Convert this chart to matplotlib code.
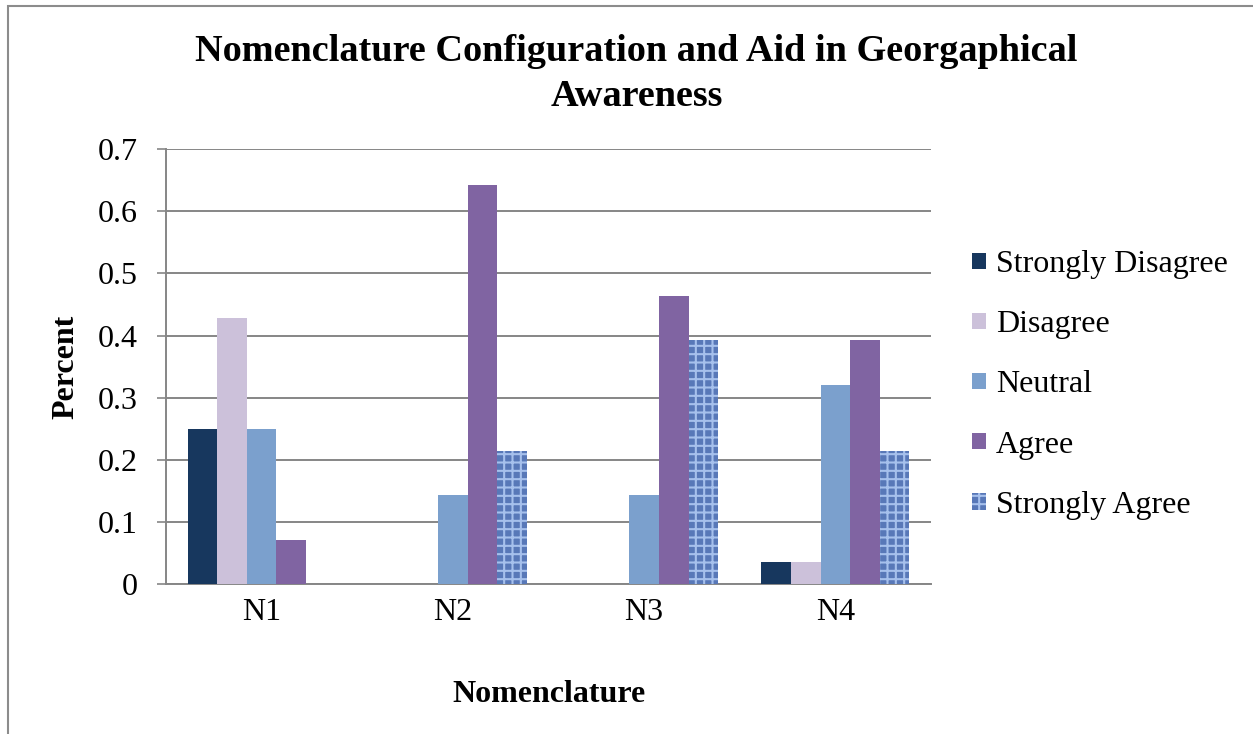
import matplotlib.pyplot as plt
import numpy as np

categories = ['N1', 'N2', 'N3', 'N4']
series = ['Strongly Disagree', 'Disagree', 'Neutral', 'Agree', 'Strongly Agree']
strongly_disagree = [0.25, 0.0, 0.0, 0.036]
disagree = [0.429, 0.0, 0.0, 0.036]
neutral = [0.25, 0.143, 0.143, 0.321]
agree = [0.071, 0.643, 0.464, 0.393]
strongly_agree = [0.0, 0.214, 0.393, 0.214]
values = [strongly_disagree, disagree, neutral, agree, strongly_agree]
colors = ['#17375E', '#CCC1DA', '#7BA0CD', '#8064A2', '#5878B8']

plt.rcParams['font.family'] = ['Liberation Serif', 'DejaVu Serif']
plt.rcParams['hatch.linewidth'] = 1.5

fig = plt.figure(figsize=(12.53, 7.34), dpi=100)
ax = fig.add_axes([0.1325, 0.2044, 0.6105, 0.5922])

# outer chart border
fig.patches.append(plt.Rectangle((8 / 1253, -0.1), 1.2, 1.1 - 6 / 734,
                                 transform=fig.transFigure, fill=False,
                                 edgecolor='#8C8C8C', linewidth=1.5))

x = np.arange(len(categories))
width = 0.155
for i, (name, vals, c) in enumerate(zip(series, values, colors)):
    pos = x - 2 * width + i * width
    if name == 'Strongly Agree':
        ax.bar(pos, vals, width, color=c, label=name, hatch='++',
               edgecolor='#A6C0EC', linewidth=0, zorder=3)
    else:
        ax.bar(pos, vals, width, color=c, label=name, linewidth=0, zorder=3)

ax.set_xlim(-0.5, 3.5)
ax.set_ylim(0, 0.7)
ax.set_yticks(np.arange(0, 0.71, 0.1))
ax.set_yticklabels(['0', '0.1', '0.2', '0.3', '0.4', '0.5', '0.6', '0.7'])
ax.set_xticks(x)
ax.set_xticklabels(categories)
ax.tick_params(axis='x', length=0, labelsize=23, pad=10)
ax.tick_params(axis='y', length=6.5, color='#868686', width=1.2, labelsize=23, pad=14)
ax.yaxis.grid(True, color='#868686', linewidth=1.4, zorder=0)
ax.set_axisbelow(True)
for s in ['top', 'right']:
    ax.spines[s].set_visible(False)
for s in ['left', 'bottom']:
    ax.spines[s].set_color('#868686')
    ax.spines[s].set_linewidth(1.4)

ax.set_ylabel('Percent', fontsize=23, fontweight='bold', labelpad=12)
ax.set_xlabel('Nomenclature', fontsize=23, fontweight='bold', labelpad=38)
fig.suptitle('Nomenclature Configuration and Aid in Georgaphical\nAwareness',
             x=0.508, y=0.953, fontsize=27.5, fontweight='bold', linespacing=1.34)

fig.legend(loc='center left', bbox_to_anchor=(0.776, 0.4755), frameon=False,
           fontsize=23, handlelength=0.42, handleheight=0.42, handletextpad=0.32,
           labelspacing=0.975, borderpad=0, borderaxespad=0)

fig.savefig('out.png', dpi=100)
